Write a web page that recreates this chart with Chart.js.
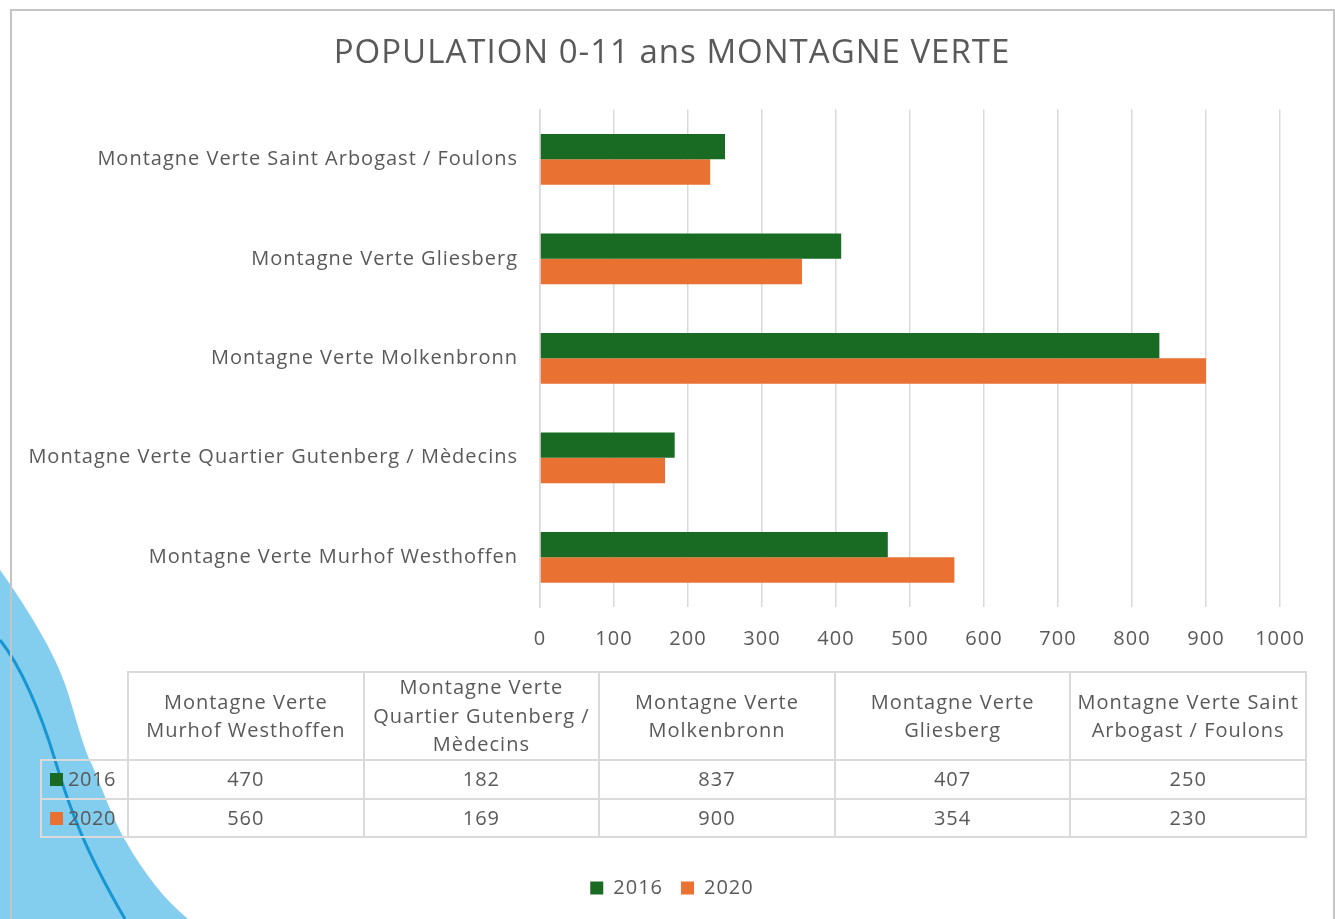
<!DOCTYPE html>
<html>
<head>
<meta charset="utf-8">
<script src="https://cdn.jsdelivr.net/npm/chart.js@4.4.1/dist/chart.umd.min.js"></script>
<style>
html,body{margin:0;padding:0;background:#fff;width:1335px;height:919px;overflow:hidden;font-family:"Open Sans",sans-serif;}
#deco{position:absolute;left:0;top:0;}
#frame{position:absolute;left:10px;top:9px;width:1325px;height:940px;border:2px solid #c4c4c4;box-sizing:border-box;}
#wrap{position:absolute;left:11px;top:10px;width:1322px;height:909px;}
#tbl{position:absolute;left:40px;top:671px;border-collapse:collapse;table-layout:fixed;color:#595959;font-size:20px;letter-spacing:1px;font-family:"Open Sans",sans-serif;}
#tbl td,#tbl th{border:2px solid #dadada;text-align:center;font-weight:normal;padding:0 6px;line-height:28.5px;}
#tbl th.blank{border:none;}
#tbl tr.head th{height:86px;}
#tbl tr.row td{height:36.5px;}
#tbl td.key{text-align:left;padding-left:8px;white-space:nowrap;letter-spacing:0.6px;}
#tbl td.key span.sw{display:inline-block;width:13px;height:13px;margin-right:5px;vertical-align:0px;}
</style>
</head>
<body>
<svg id="deco" width="1335" height="919" viewBox="0 0 1335 919">
  <path d="M0,570 C20,598 55,650 68,693 C78,725 84,750 92,765 C103,790 113,820 125,840 C145,875 165,900 188,919 L0,919 Z" fill="#83cdee"/>
  <path d="M0,640 C20,665 40,710 55,760 S85,850 125,919" fill="none" stroke="#1896d2" stroke-width="3"/>
</svg>
<div id="frame"></div>
<div id="wrap"><canvas id="c"></canvas></div>
<table id="tbl"></table>
<script>
const chartTitle = "POPULATION 0-11 ans MONTAGNE VERTE";
const categories = [
  "Montagne Verte Murhof Westhoffen",
  "Montagne Verte Quartier Gutenberg / Mèdecins",
  "Montagne Verte Molkenbronn",
  "Montagne Verte Gliesberg",
  "Montagne Verte Saint Arbogast / Foulons"
];
const seriesNames = ["2016", "2020"];
const values2016 = [470, 182, 837, 407, 250];
const values2020 = [560, 169, 900, 354, 230];
const seriesColors = ["#196b24", "#e97132"];
const xMin = 0, xMax = 1000, xStep = 100;

const FONT = "'Open Sans', sans-serif";
const TXT = "#595959";

// data table
const tbl = document.getElementById('tbl');
let html = '<colgroup><col style="width:87px">' + categories.map(() => '<col style="width:235.6px">').join('') + '</colgroup>';
html += '<tr class="head"><th class="blank"></th>' + categories.map(c => '<th>' + c + '</th>').join('') + '</tr>';
const seriesVals = [values2016, values2020];
seriesNames.forEach((n, i) => {
  html += '<tr class="row"><td class="key"><span class="sw" style="background:' + seriesColors[i] + '"></span>' + n + '</td>' +
    seriesVals[i].map(v => '<td>' + v + '</td>').join('') + '</tr>';
});
tbl.innerHTML = html;

const spacing = {
  id: 'spacing',
  beforeUpdate(chart) { chart.ctx.letterSpacing = '1px'; },
  beforeLayout(chart) { chart.ctx.letterSpacing = '1px'; },
  beforeDraw(chart) { chart.ctx.letterSpacing = '1px'; }
};

new Chart(document.getElementById('c'), {
  type: 'bar',
  plugins: [spacing],
  data: {
    labels: categories,
    datasets: [
      { label: seriesNames[0], data: values2016, backgroundColor: seriesColors[0], barPercentage: 1, categoryPercentage: 0.51 },
      { label: seriesNames[1], data: values2020, backgroundColor: seriesColors[1], barPercentage: 1, categoryPercentage: 0.51 }
    ]
  },
  options: {
    indexAxis: 'y',
    responsive: true,
    maintainAspectRatio: false,
    animation: false,
    layout: { padding: { left: 0, right: 0, top: 0, bottom: 11 } },
    plugins: {
      title: { display: true, text: chartTitle, color: TXT, font: { family: FONT, size: 33, weight: 'normal' }, padding: { top: 24, bottom: 36 } },
      legend: { position: 'bottom', labels: { boxWidth: 13, boxHeight: 13, color: TXT, font: { family: FONT, size: 20 }, padding: 18 } },
      tooltip: { enabled: false }
    },
    scales: {
      x: {
        min: xMin, max: xMax,
        ticks: { stepSize: xStep, color: TXT, font: { family: FONT, size: 20 }, padding: 20, callback: v => String(v) },
        grid: { color: '#d9d9d9', lineWidth: 1.5, drawTicks: false },
        border: { display: false },
        afterFit(s) { s.height = 271 - 18; }
      },
      y: {
        reverse: true,
        ticks: { color: TXT, font: { family: FONT, size: 20 }, padding: 22 },
        grid: { display: false, drawTicks: false },
        border: { display: true, color: '#d9d9d9', width: 1.5 },
        afterFit(s) { s.width = 529; }
      },
      yRight: {
        type: 'category',
        position: 'right',
        display: true,
        ticks: { display: false },
        grid: { display: false, drawTicks: false },
        border: { display: false },
        afterFit(s) { s.width = 53; }
      }
    }
  }
});
</script>
</body>
</html>
